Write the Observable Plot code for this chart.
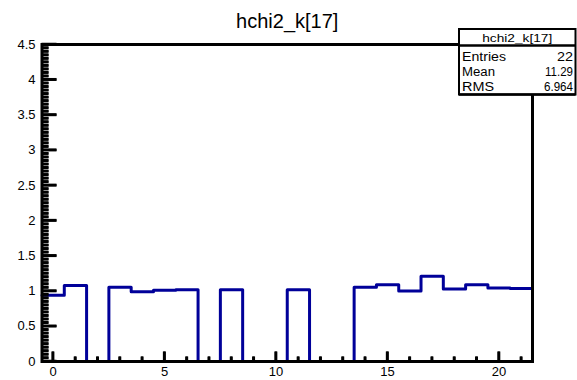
<!DOCTYPE html>
<html>
<head>
<meta charset="utf-8">
<script src="https://cdn.jsdelivr.net/npm/d3@7"></script>
<script src="https://cdn.jsdelivr.net/npm/@observablehq/plot@0.6"></script>
<style>
  html, body { margin: 0; padding: 0; background: #fff; color: #000; }
  #chart { position: relative; width: 577px; height: 380px; }
  #overlay { position: absolute; left: 0; top: 0; pointer-events: none; }
</style>
</head>
<body>
<div id="chart"></div>
<script>
// ---- data ----
const title = "hchi2_k[17]";
const binCenters = [0,1,2,3,4,5,6,7,8,9,10,11,12,13,14,15,16,17,18,19,20,21];
const binValues  = [0.94,1.08,0,1.055,0.99,1.01,1.02,0,1.02,0,0,1.02,0,0,1.055,1.09,1.0,1.21,1.03,1.09,1.045,1.035];
const binWidth = 1;
const xDomain = [-0.5, 21.5];
const yDomain = [0, 4.5];
const xMajorTicks = [0, 5, 10, 15, 20];
const xTickLabels = ["0", "5", "10", "15", "20"];
const yMajorTicks = [0, 0.5, 1, 1.5, 2, 2.5, 3, 3.5, 4, 4.5];
const yTickLabels = ["0", "0.5", "1", "1.5", "2", "2.5", "3", "3.5", "4", "4.5"];
const statsTitle = "hchi2_k[17]";
const statsLabels = ["Entries", "Mean", "RMS"];
const statsValues = ["22", "11.29", "6.964"];

const xMinorTicks = d3.range(0, 22, 1).filter(v => !xMajorTicks.includes(v));
const yMinorTicks = d3.range(0, 91).map(i => +(i * 0.05).toFixed(2)).filter(v => !yMajorTicks.includes(v));

const stepPts = binCenters.map((c, i) => ({x: c - binWidth / 2, y: binValues[i]}));
stepPts.push({x: binCenters[binCenters.length - 1] + binWidth / 2, y: binValues[binValues.length - 1]});

const font = "'Liberation Sans', Arial, Helvetica, sans-serif";
const histColor = "#000099";

const W = 577, H = 380, mL = 41.5, mR = 45, mT = 44, mB = 19;
const frameW = W - mL - mR, frameH = H - mT - mB;

const plot = Plot.plot({
  width: W,
  height: H,
  marginLeft: mL,
  marginRight: mR,
  marginTop: mT,
  marginBottom: mB,
  x: {domain: xDomain},
  y: {domain: yDomain},
  style: {fontFamily: font, fontSize: "13px"},
  marks: [
    Plot.line(stepPts, {x: "x", y: "y", curve: "step-after", stroke: histColor, strokeWidth: 3}),
    Plot.tickY(yMinorTicks, {y: d => d, stroke: "#000", strokeWidth: 2.5, insetRight: frameW - 7}),
    Plot.tickY(yMajorTicks, {y: d => d, stroke: "#000", strokeWidth: 2.5, insetRight: frameW - 15}),
    Plot.tickX(xMinorTicks, {x: d => d, stroke: "#000", strokeWidth: 2.5, insetTop: frameH - 4.5}),
    Plot.tickX(xMajorTicks, {x: d => d, stroke: "#000", strokeWidth: 2.5, insetTop: frameH - 9.5}),
    Plot.frame({stroke: "#000", strokeWidth: 3}),
    Plot.axisY({ticks: yMajorTicks, tickSize: 0, tickPadding: 6.5, tickFormat: (d, i) => yTickLabels[i], label: null}),
    Plot.axisX({ticks: xMajorTicks, tickSize: 0, tickPadding: 5, tickFormat: (d, i) => xTickLabels[i], label: null}),
    Plot.text([title], {frameAnchor: "top", dy: -17, lineAnchor: "bottom", fontSize: 20, fill: "#000"})
  ]
});

document.getElementById("chart").appendChild(plot);

// ---- overlay svg with inside ticks, positioned by Plot's own scales ----
const sx = plot.scale("x"), sy = plot.scale("y");
const xLeft = sx.apply(xDomain[0]), yBottom = sy.apply(yDomain[0]);
const ov = d3.select("#chart").append("svg").attr("id", "overlay")
  .attr("width", W).attr("height", H).attr("viewBox", `0 0 ${W} ${H}`);
const tg = ov.append("g").attr("stroke", "#000").attr("stroke-width", 2.5);
yMinorTicks.forEach(v => tg.append("rect").attr("x", xLeft).attr("y", sy.apply(v) - 1.25)
  .attr("width", 7).attr("height", 2.5).attr("fill", "#000").attr("stroke", "none"));
yMajorTicks.forEach(v => tg.append("rect").attr("x", xLeft).attr("y", sy.apply(v) - 1.25)
  .attr("width", 15).attr("height", 2.5).attr("fill", "#000").attr("stroke", "none"));
xMinorTicks.forEach(v => tg.append("line").attr("x1", sx.apply(v)).attr("x2", sx.apply(v))
  .attr("y1", yBottom).attr("y2", yBottom - 4.5));
xMajorTicks.forEach(v => tg.append("line").attr("x1", sx.apply(v)).attr("x2", sx.apply(v))
  .attr("y1", yBottom).attr("y2", yBottom - 9.5));

// ---- stats box ----
const g = ov.append("g").attr("font-family", font).attr("fill", "#000").attr("text-anchor", "start");
const bx0 = 459, bx1 = 575.5, by0 = 29, by1 = 94.5, sepY = 45.5;
g.append("rect").attr("x", bx0).attr("y", by0).attr("width", bx1 - bx0).attr("height", by1 - by0)
  .attr("fill", "#fff").attr("stroke", "#000").attr("stroke-width", 2);
g.append("line").attr("x1", bx0).attr("x2", bx1).attr("y1", sepY).attr("y2", sepY)
  .attr("stroke", "#000").attr("stroke-width", 2.5);
g.append("text").attr("x", (bx0 + bx1) / 2).attr("y", 41.5).attr("text-anchor", "middle")
  .attr("font-size", 11).attr("textLength", 70).attr("lengthAdjust", "spacingAndGlyphs").text(statsTitle);
const rowY = [61, 76, 91];
const labelLen = [44, 33, 32];
const valueLen = [16, 28, 29];
statsLabels.forEach((lab, i) => {
  g.append("text").attr("x", 462).attr("y", rowY[i]).attr("font-size", 12).attr("text-anchor", "start")
    .attr("textLength", labelLen[i]).attr("lengthAdjust", "spacingAndGlyphs").text(lab);
  g.append("text").attr("x", 573).attr("y", rowY[i]).attr("font-size", 12).attr("text-anchor", "end")
    .attr("textLength", valueLen[i]).attr("lengthAdjust", "spacingAndGlyphs").text(statsValues[i]);
});
g.append("line").attr("x1", bx0).attr("x2", bx1).attr("y1", by1).attr("y2", by1)
  .attr("stroke", "#000").attr("stroke-width", 2.5);
</script>
</body>
</html>
